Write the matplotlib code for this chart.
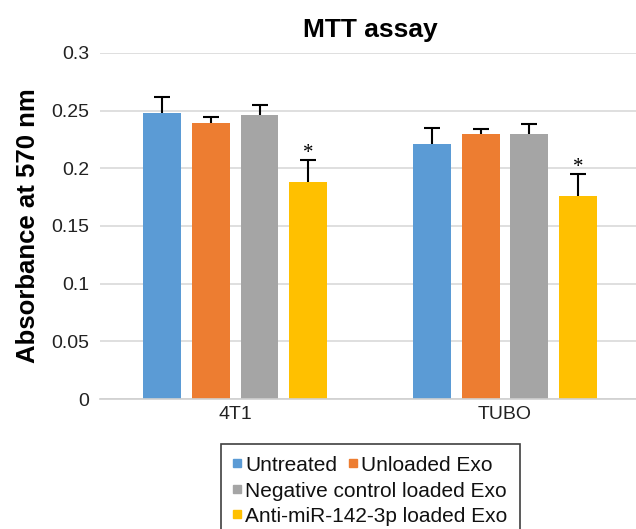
import numpy as np
import matplotlib
matplotlib.use('Agg')
import matplotlib.pyplot as plt
from matplotlib.patches import Rectangle

plt.rcParams['font.family'] = ['Liberation Sans', 'DejaVu Sans']

kategorie = ['4T1', 'TUBO']
serie = ['Untreated', 'Unloaded Exo', 'Negative control loaded Exo', 'Anti-miR-142-3p loaded Exo']
kolory = ['#5B9BD5', '#ED7D31', '#A5A5A5', '#FFC000']
wartosci = [
    [0.248, 0.2214],
    [0.2396, 0.2295],
    [0.2462, 0.2295],
    [0.188, 0.1763],
]
bledy = [
    [0.014, 0.014],
    [0.005, 0.005],
    [0.009, 0.0087],
    [0.019, 0.0185],
]
gwiazdki = ['', '', '', '*']

fig = plt.figure(figsize=(6.36, 5.29), dpi=100)
ax = fig.add_axes([100 / 636, 130 / 529, 536 / 636, 346 / 529])

x = np.arange(len(kategorie))
szer = 0.1407
krok = 0.18

for i, (nazwa, kol) in enumerate(zip(serie, kolory)):
    poz = x + (i - 1.5) * krok
    ax.bar(poz, wartosci[i], szer, color=kol, zorder=2)
    _, caps, _ = ax.errorbar(poz, wartosci[i], yerr=[np.zeros(len(x)), bledy[i]], fmt='none',
                             ecolor='black', elinewidth=1.5, capsize=5.5, capthick=1.5, zorder=3)
    caps[0].set_visible(False)  # tylko gorny wasik
    if gwiazdki[i]:
        for p, w, b in zip(poz, wartosci[i], bledy[i]):
            ax.annotate(gwiazdki[i], (p, w + b), xytext=(0, -2), textcoords='offset points',
                        ha='center', va='bottom', fontsize=15, family='Liberation Serif')

ax.set_xlim(-0.501, 1.485)
ax.set_ylim(0, 0.3)
ax.set_yticks(np.arange(0, 0.301, 0.05))
ax.set_yticklabels(['0', '0.05', '0.1', '0.15', '0.2', '0.25', '0.3'])
ax.set_xticks(x)
ax.set_xticklabels(kategorie)
ax.tick_params(axis='both', length=0, labelsize=14, colors='#222222')
ax.tick_params(axis='y', pad=8)
ax.tick_params(axis='x', pad=5)
ax.grid(axis='y', color='#d9d9d9', linewidth=1.2, zorder=0)
for s in ['top', 'right', 'left']:
    ax.spines[s].set_visible(False)
ax.spines['bottom'].set_color('#d0d0d0')
ax.spines['bottom'].set_linewidth(1.2)

ax.set_ylabel('Absorbance at 570 nm', fontsize=18.5, fontweight='bold', labelpad=8)
fig.text(370 / 636, 1 - 30 / 529, 'MTT assay', fontsize=19, fontweight='bold',
         ha='center', va='center')

# legenda rysowana recznie (uklad 2 + 1 + 1)
W, H = 636, 529
fig.patches.append(Rectangle((221 / W, (H - 535) / H), 299 / W, 91 / H,
                             transform=fig.transFigure, fill=False,
                             edgecolor='#404040', linewidth=1.2))
wiersze = [[(233, 0), (349, 1)], [(233, 2)], [(233, 3)]]
y_znacznikow = [463, 489, 514]
y_linii = [470.7, 496.7, 521.7]
for wiersz, ym, yb in zip(wiersze, y_znacznikow, y_linii):
    for xx, k in wiersz:
        fig.patches.append(Rectangle((xx / W, (H - ym - 4) / H), 8 / W, 8 / H,
                                     transform=fig.transFigure, color=kolory[k]))
        fig.text((xx + 12) / W, (H - yb) / H, serie[k], fontsize=15,
                 ha='left', va='baseline', color='#111111')

fig.savefig('out.png', dpi=100)
